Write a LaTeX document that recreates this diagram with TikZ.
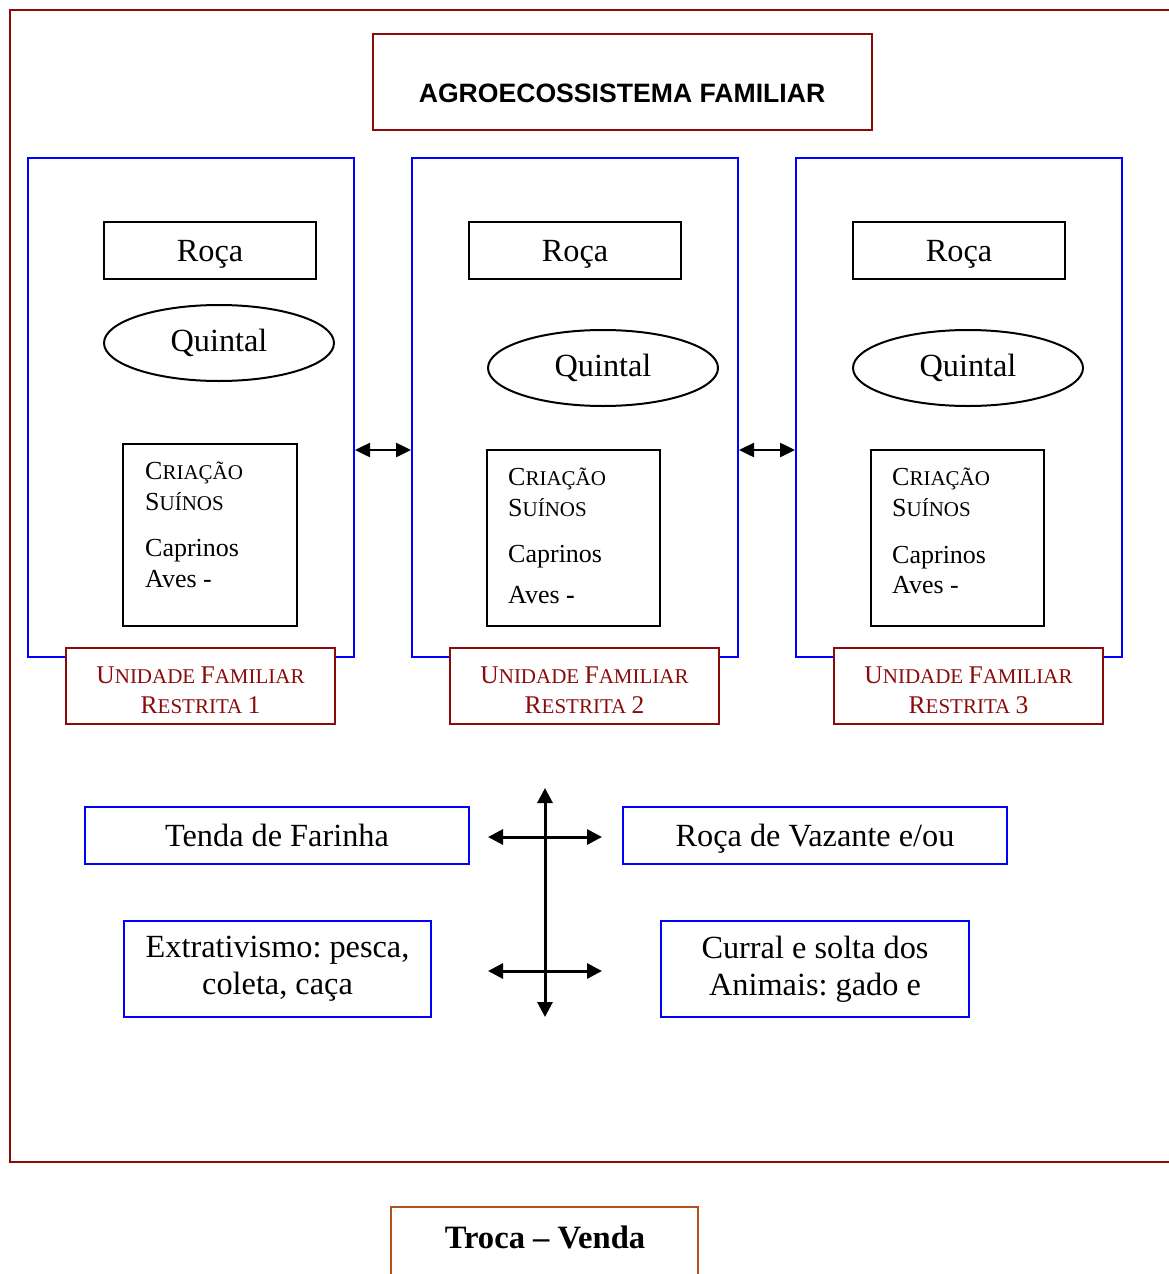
\documentclass[tikz,border=0pt]{standalone}
\usepackage{fontspec}
\setmainfont{Liberation Serif}
\newfontfamily\titlefont{Liberation Sans}
\usetikzlibrary{arrows.meta,shapes.geometric}
\definecolor{dred}{HTML}{8B0A0A}
\definecolor{trocacol}{HTML}{B4501E}
\newcommand\fscC[2]{{\fontsize{26}{31}\selectfont #1}{\fontsize{21}{31}\selectfont #2}}
\newcommand\fscU[2]{{\fontsize{25.5}{30}\selectfont #1}{\fontsize{21}{30}\selectfont #2}}
\frenchspacing
\begin{document}
\begin{tikzpicture}[x=1pt,y=-1pt,
  redbox/.style={draw=dred,line width=2pt,inner sep=0pt,fill=white},
  bluebox/.style={draw=blue,line width=2pt,inner sep=0pt},
  blackbox/.style={draw=black,line width=2pt,inner sep=0pt},
  oval/.style={draw=black,line width=2pt,inner sep=0pt,ellipse},
  bigtxt/.style={font=\frenchspacing\fontsize{32.3}{37}\selectfont},
  smtxt/.style={font=\fontsize{26}{31}\selectfont,anchor=base west,inner sep=0pt},
  unitxt/.style={text=dred,anchor=base,inner sep=0pt,font=\fontsize{21}{30}\selectfont},
  dbl/.style={{Triangle[length=15pt,width=14pt]}-{Triangle[length=15pt,width=14pt]},line width=2.5pt},
  crossarr/.style={{Triangle[length=15pt,width=15pt]}-{Triangle[length=15pt,width=15pt]},line width=3pt}
]
\useasboundingbox (0,0) rectangle (1169,1274);
\fill[white] (0,0) rectangle (1169,1274);

% outer frame (open to the right edge)
\draw[dred,line width=2.5pt] (1200,10) -- (10,10) -- (10,1162) -- (1200,1162);

% title
\node[redbox,minimum width=499pt,minimum height=96pt] (title) at (622.5,82) {};
\node[anchor=base,inner sep=0pt,font=\titlefont\bfseries\fontsize{26.6}{30}\selectfont] (titletext) at (622,102) {AGROECOSSISTEMA FAMILIAR};

% blue unit boxes
\node[bluebox,minimum width=326pt,minimum height=499pt] (b1) at (191,407.5) {};
\node[bluebox,minimum width=326pt,minimum height=499pt] (b2) at (575,407.5) {};
\node[bluebox,minimum width=326pt,minimum height=499pt] (b3) at (959,407.5) {};

% Roca boxes
\node[blackbox,bigtxt,minimum width=212pt,minimum height=57pt,text depth=0pt] (r1) at (210,250.5) {Roça};
\node[blackbox,bigtxt,minimum width=212pt,minimum height=57pt,text depth=0pt] (r2) at (575,250.5) {Roça};
\node[blackbox,bigtxt,minimum width=212pt,minimum height=57pt,text depth=0pt] (r3) at (959,250.5) {Roça};

% Quintal ellipses
\node[oval,bigtxt,minimum width=230pt,minimum height=76pt] (q1) at (219,343) {Quintal};
\node[oval,bigtxt,minimum width=230pt,minimum height=76pt] (q2) at (603,368) {Quintal};
\node[oval,bigtxt,minimum width=230pt,minimum height=76pt] (q3) at (968,368) {Quintal};

% Criacao boxes
\node[blackbox,minimum width=174pt,minimum height=182pt] (c1) at (210,535) {};
\node[blackbox,minimum width=173pt,minimum height=176pt] (c2) at (573.5,538) {};
\node[blackbox,minimum width=173pt,minimum height=176pt] (c3) at (957.5,538) {};

\node[smtxt] (c1a) at (145,479) {\fscC{C}{RIAÇÃO}};
\node[smtxt] (c1b) at (145,510) {\fscC{S}{UÍNOS}};
\node[smtxt] (c1c) at (145,556) {Caprinos};
\node[smtxt] (c1d) at (145,587) {Aves -};

\node[smtxt] (c2a) at (508,485) {\fscC{C}{RIAÇÃO}};
\node[smtxt] (c2b) at (508,516) {\fscC{S}{UÍNOS}};
\node[smtxt] (c2c) at (508,562) {Caprinos};
\node[smtxt] (c2d) at (508,603) {Aves {\bfseries -}};

\node[smtxt] (c3a) at (892,485) {\fscC{C}{RIAÇÃO}};
\node[smtxt] (c3b) at (892,516) {\fscC{S}{UÍNOS}};
\node[smtxt] (c3c) at (892,563) {Caprinos};
\node[smtxt] (c3d) at (892,593) {Aves -};

% Unidade boxes
\node[redbox,minimum width=269pt,minimum height=76pt] (u1) at (200.5,686) {};
\node[redbox,minimum width=269pt,minimum height=76pt] (u2) at (584.5,686) {};
\node[redbox,minimum width=269pt,minimum height=76pt] (u3) at (968.5,686) {};
\node[unitxt] (u1a) at (200.5,683) {\fscU{U}{NIDADE} \fscU{F}{AMILIAR}};
\node[unitxt] (u1b) at (200.5,713) {\fscU{R}{ESTRITA} {\fontsize{25.5}{30}\selectfont 1}};
\node[unitxt] (u2a) at (584.5,683) {\fscU{U}{NIDADE} \fscU{F}{AMILIAR}};
\node[unitxt] (u2b) at (584.5,713) {\fscU{R}{ESTRITA} {\fontsize{25.5}{30}\selectfont 2}};
\node[unitxt] (u3a) at (968.5,683) {\fscU{U}{NIDADE} \fscU{F}{AMILIAR}};
\node[unitxt] (u3b) at (968.5,713) {\fscU{R}{ESTRITA} {\fontsize{25.5}{30}\selectfont 3}};

% arrows between unit boxes
\coordinate (ar) at (383,450);
\draw[dbl] (b1.east |- ar) -- (b2.west |- ar);
\draw[dbl] (b2.east |- ar) -- (b3.west |- ar);

% bottom boxes
\node[bluebox,bigtxt,minimum width=384pt,minimum height=57pt] (tenda) at (277,835.5) {Tenda de Farinha};
\node[bluebox,bigtxt,minimum width=384pt,minimum height=57pt,text depth=0pt] (vaz) at (815,835.5) {Roça de Vazante e/ou};
\node[bluebox,bigtxt,align=center,minimum width=307pt,minimum height=96pt] (ext) at (277.5,969) {Extrativismo: pesca,\\coleta, caça};
\node[bluebox,bigtxt,align=center,minimum width=308pt,minimum height=96pt] (cur) at (815,969) {Curral e solta dos\\Animais: gado e};

% cross of arrows
\coordinate (vt) at (545,788);
\coordinate (vb) at (545,1017);
\coordinate (h1l) at (488,837);
\coordinate (h1r) at (602,837);
\coordinate (h2l) at (488,971);
\coordinate (h2r) at (602,971);
\draw[crossarr] (vt) -- (vb);
\draw[crossarr] (h1l) -- (h1r);
\draw[crossarr] (h2l) -- (h2r);

% Troca - Venda
\node[draw=trocacol,line width=2pt,inner sep=0pt,minimum width=307pt,minimum height=93pt] (troca) at (544.5,1253.5) {};
\node[anchor=base,inner sep=0pt,font=\bfseries\fontsize{32.6}{37}\selectfont] (trocatext) at (545,1248) {Troca – Venda};
\end{tikzpicture}
\end{document}
